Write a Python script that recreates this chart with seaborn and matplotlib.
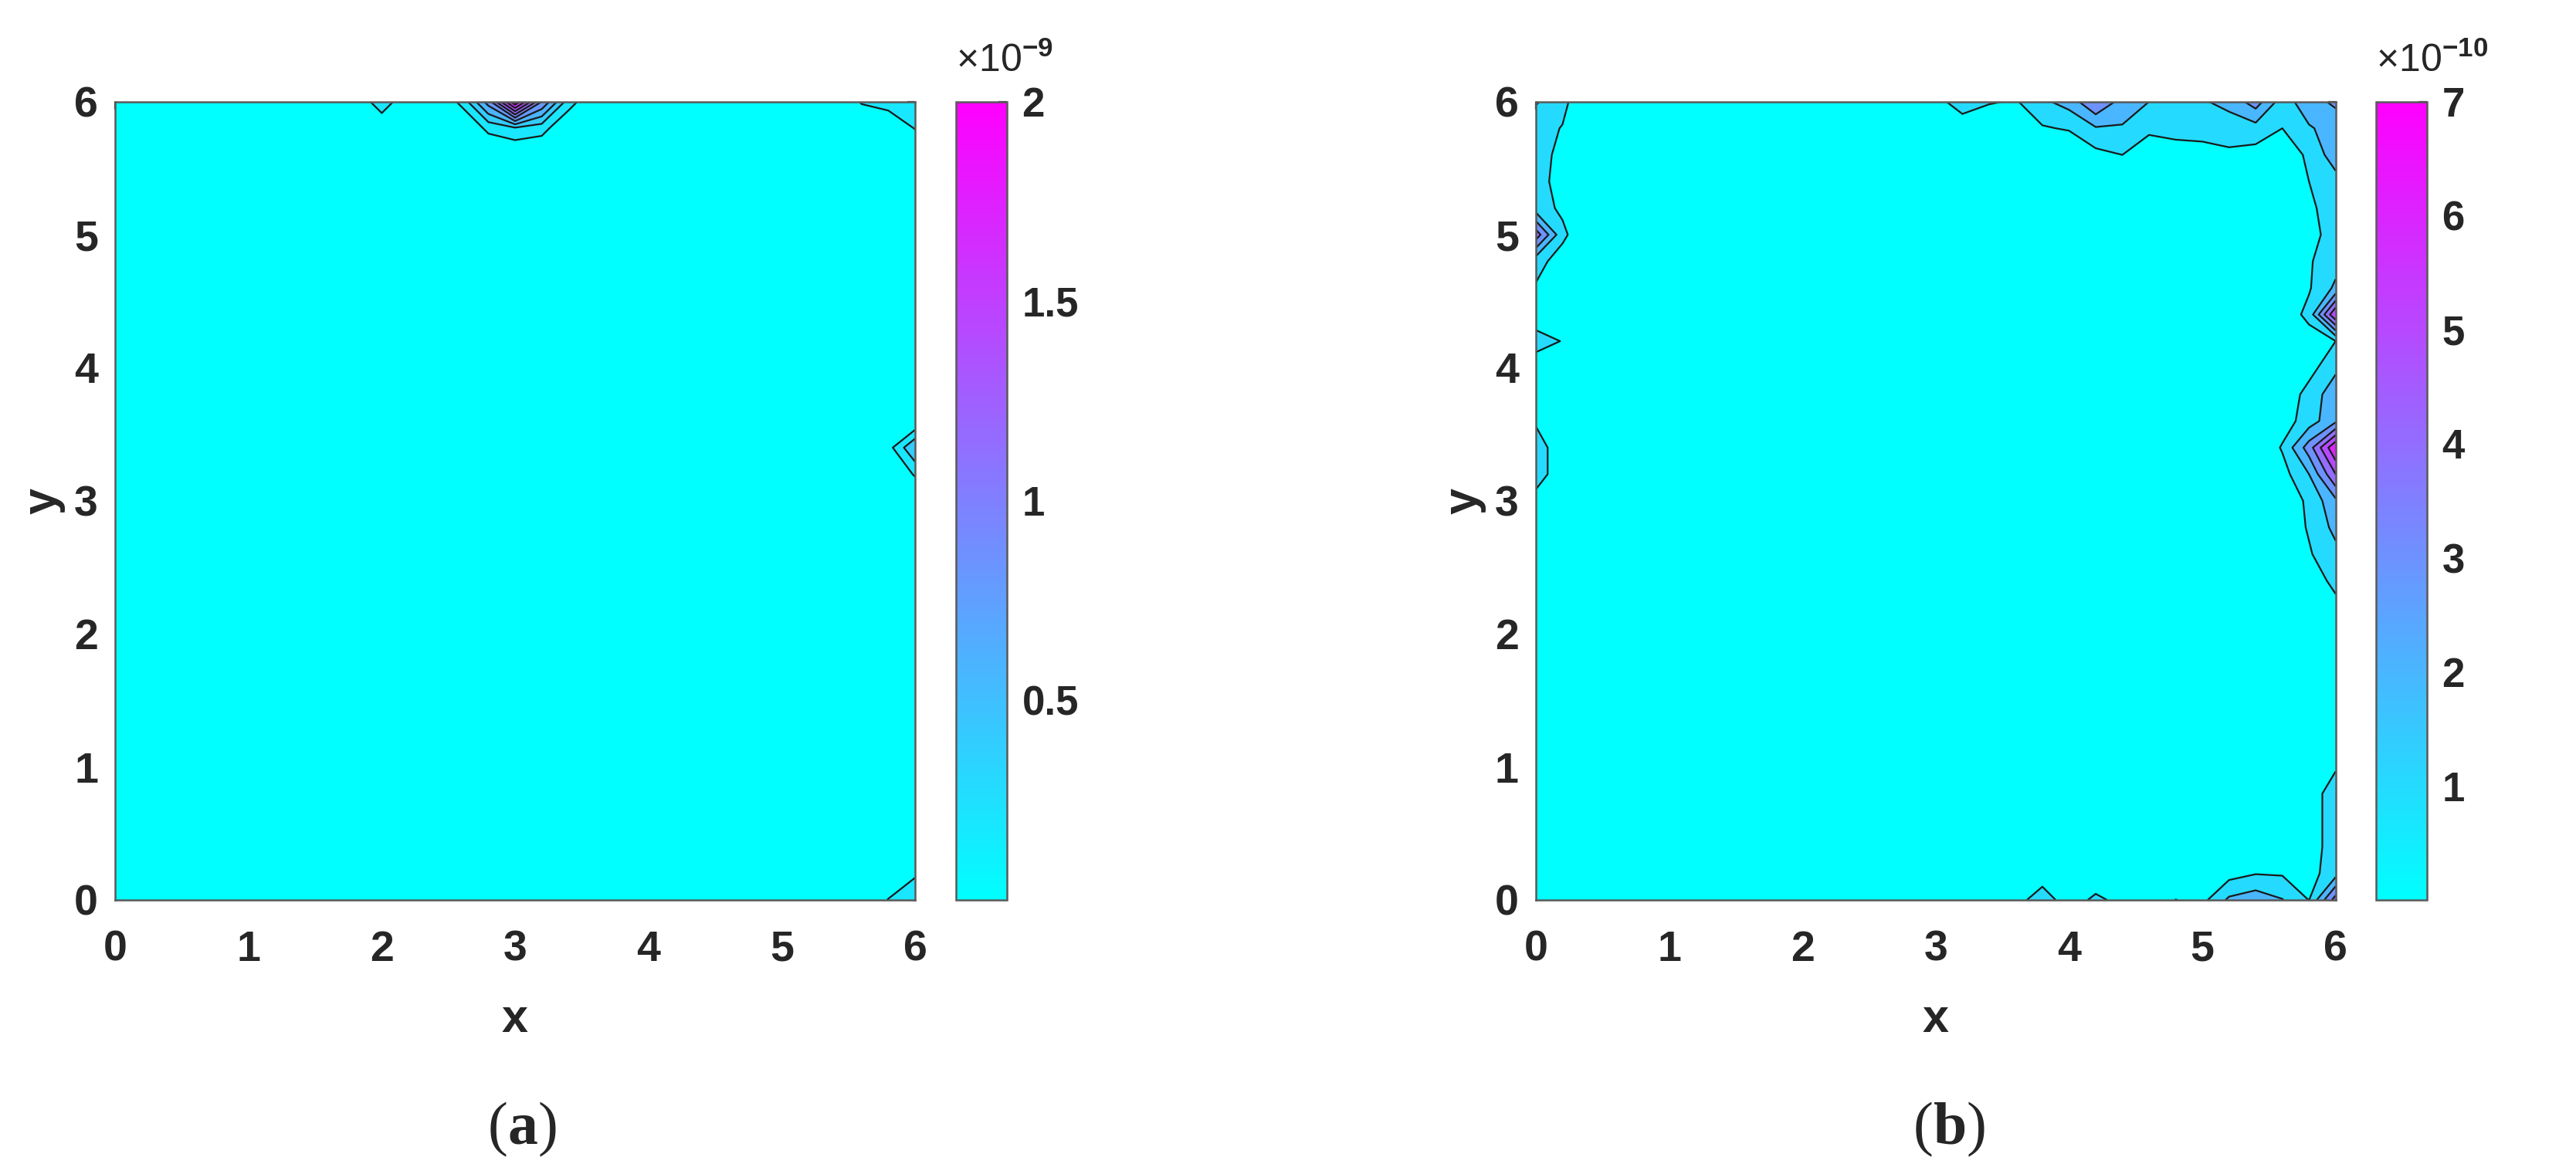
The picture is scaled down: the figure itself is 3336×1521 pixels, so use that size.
"""
Two filled-contour error maps on the unit cell [0, 6] x [0, 6],
drawn in the MATLAB look of the source figure (cool colormap, black isolines).
"""
import numpy as np
import matplotlib
matplotlib.use("Agg")
import matplotlib.pyplot as plt
import seaborn as sns
from matplotlib.colors import Normalize
from matplotlib.cm import ScalarMappable
from matplotlib.offsetbox import TextArea, HPacker, AnchoredOffsetbox

sns.set_theme(style="white")
plt.rcParams["font.family"] = ["Liberation Sans", "DejaVu Sans"]
plt.rcParams["font.weight"] = "bold"
plt.rcParams["mathtext.fontset"] = "custom"
plt.rcParams["mathtext.rm"] = "Liberation Sans"
plt.rcParams["mathtext.it"] = "Liberation Sans:italic"
plt.rcParams["mathtext.bf"] = "Liberation Sans:bold"

# ---- data -----------------------------------------------------------
STEP = 0.2
GRID = np.round(np.arange(0, 6.0 + STEP / 2, STEP), 1)

# panel (a): nodes that are not zero, value in units of 1e-9
A_X = [2.0, 2.6, 2.8, 3.0, 3.2, 3.4, 2.8, 3.0, 3.2,
       5.6, 5.8, 6.0, 6.0, 6.0, 6.0, 5.8, 6.0, 5.8, 6.0]
A_Y = [6.0, 6.0, 6.0, 6.0, 6.0, 6.0, 5.8, 5.8, 5.8,
       6.0, 6.0, 6.0, 5.8, 3.4, 3.2, 3.4, 0.0, 0.0, 0.2]
A_V = [0.35, 0.25, 0.90, 1.98, 1.00, 0.30, 0.25, 0.36, 0.28,
       0.22, 0.30, 0.38, 0.21, 0.60, 0.22, 0.12, 0.30, 0.21, 0.18]
A_LEVELS = [0, 0.2, 0.4, 0.6, 0.8, 1.0, 1.2, 1.4, 1.6, 1.8, 2.0]
A_TICKS = [0.5, 1, 1.5, 2]
A_TICKLABELS = ["0.5", "1", "1.5", "2"]

# panel (b): nodes that are not zero, value in units of 1e-10
# left edge x = 0 and x = 0.2
B_LEFT_Y = [6.0, 5.8, 5.6, 5.4, 5.2, 5.0, 4.8, 4.6, 4.4, 4.2, 4.0, 3.8, 3.6, 3.4, 3.2, 3.0, 2.8]
B_LEFT_V0 = [2.1, 1.4, 1.3, 1.3, 1.5, 4.6, 1.4, 0.9, 0.3, 1.5, 0.3, 0.2, 0.9, 1.4, 1.4, 0.7, 0.2]
B_LEFT_V1 = [1.3, 0.95, 0.8, 0.7, 0.8, 1.25, 0.5, 0.2, 0.0, 0.95, 0.0, 0.0, 0.2, 0.5, 0.5, 0.1, 0.0]
# top edge y = 6, 5.8, 5.6
B_TOP_X = [3.0, 3.2, 3.4, 3.6, 3.8, 4.0, 4.2, 4.4, 4.6, 4.8, 5.0, 5.2, 5.4, 5.6, 5.8]
B_TOP_V0 = [0.6, 1.6, 1.1, 0.9, 1.8, 2.4, 4.0, 2.6, 2.0, 1.6, 1.9, 2.3, 3.5, 2.8, 2.6]
B_TOP_V1 = [0.0, 0.3, 0.1, 0.2, 0.9, 1.1, 1.9, 1.9, 1.2, 1.3, 1.4, 1.5, 1.6, 1.7, 1.9]
B_TOP_V2 = [0.0, 0.0, 0.0, 0.0, 0.0, 0.0, 0.7, 1.0, 0.4, 0.6, 0.6, 0.8, 0.6, 0.7, 1.15]
# right edge x = 6, 5.8, 5.6
B_RIGHT_Y = [0.0, 0.2, 0.4, 0.6, 0.8, 1.0, 1.2, 1.4, 1.6, 1.8, 2.0, 2.2, 2.4, 2.6, 2.8,
             3.0, 3.2, 3.4, 3.6, 3.8, 4.0, 4.2, 4.4, 4.6, 4.8, 5.0, 5.2, 5.4, 5.6, 5.8, 6.0]
B_RIGHT_V0 = [4.5, 1.6, 1.5, 1.5, 1.5, 0.9, 0.5, 0.3, 0.2, 0.2, 0.3, 0.7, 1.3, 1.7, 2.3,
              2.8, 5.0, 6.95, 2.8, 2.6, 1.8, 1.0, 6.0, 2.2, 1.6, 1.5, 1.5, 1.6, 2.6, 2.4, 3.2]
B_RIGHT_V1 = [0.98, 0.6, 0.5, 0.5, 0.5, 0.3, 0.1, 0.0, 0.0, 0.0, 0.0, 0.1, 0.4, 0.9, 1.1,
              1.2, 2.0, 3.5, 1.5, 1.4, 0.6, 0.5, 1.3, 0.9, 0.9, 0.6, 0.8, 1.0, 1.15, 1.9, 2.6]
B_RIGHT_V2 = [0.0, 0.0, 0.0, 0.0, 0.0, 0.0, 0.0, 0.0, 0.0, 0.0, 0.0, 0.0, 0.0, 0.2, 0.3,
              0.3, 0.6, 1.1, 0.5, 0.2, 0.0, 0.0, 0.3, 0.2, 0.2, 0.1, 0.2, 0.3, 0.5, 1.0, 1.5]
# bottom edge y = 0, 0.2
B_BOT_X = [3.6, 3.8, 4.0, 4.2, 4.4, 4.6, 4.8, 5.0, 5.2, 5.4, 5.6]
B_BOT_V0 = [0.5, 1.7, 0.3, 1.3, 0.6, 0.4, 1.02, 0.7, 2.2, 2.6, 2.05]
B_BOT_V1 = [0.0, 0.3, 0.0, 0.0, 0.0, 0.0, 0.0, 0.1, 0.6, 0.95, 0.9]
B_LEVELS = [0, 1, 2, 3, 4, 5, 6, 7]
B_TICKS = [1, 2, 3, 4, 5, 6, 7]
B_TICKLABELS = ["1", "2", "3", "4", "5", "6", "7"]


def idx(v):
    return int(round(v / STEP))


def field_a():
    z = np.zeros((GRID.size, GRID.size))
    for x, y, v in zip(A_X, A_Y, A_V):
        z[idx(y), idx(x)] = v
    return z


def field_b():
    z = np.zeros((GRID.size, GRID.size))
    for y, v0, v1 in zip(B_LEFT_Y, B_LEFT_V0, B_LEFT_V1):
        z[idx(y), 0], z[idx(y), 1] = v0, v1
    for x, v0, v1, v2 in zip(B_TOP_X, B_TOP_V0, B_TOP_V1, B_TOP_V2):
        z[-1, idx(x)], z[-2, idx(x)], z[-3, idx(x)] = v0, v1, v2
    for y, v0, v1, v2 in zip(B_RIGHT_Y, B_RIGHT_V0, B_RIGHT_V1, B_RIGHT_V2):
        z[idx(y), -1], z[idx(y), -2], z[idx(y), -3] = v0, v1, v2
    for x, v0, v1 in zip(B_BOT_X, B_BOT_V0, B_BOT_V1):
        z[0, idx(x)], z[1, idx(x)] = v0, v1
    return z


CMAP = sns.color_palette("cool", as_cmap=True)
FRAME = "0.35"
INK = "#262626"


def panel(fig, ax_rect, cax_rect, z, levels, ticks, ticklabels, exp_txt, tag, tag_x):
    ax = fig.add_axes(ax_rect)
    cax = fig.add_axes(cax_rect)
    vmax = levels[-1]
    # MATLAB fills each band with the colour of its lower level
    band_cols = [CMAP(l / vmax) for l in levels[:-1]]
    ax.contourf(GRID, GRID, z, levels=levels, colors=band_cols)
    ax.contour(GRID, GRID, z, levels=levels[1:-1], colors="k", linewidths=0.8)
    ax.set_xlim(0, 6)
    ax.set_ylim(0, 6)
    ax.set_xticks(range(7))
    ax.set_yticks(range(7))
    ax.tick_params(direction="in", top=True, right=True, length=3.6, width=0.8,
                   color="0.2", labelsize=20, labelcolor=INK)
    ax.tick_params(axis="x", pad=14)
    ax.tick_params(axis="y", pad=8)
    ax.set_xlabel("x", fontsize=22, fontweight="bold", labelpad=13, color=INK)
    ax.set_ylabel("y", fontsize=22, fontweight="bold", labelpad=4, color=INK)
    for s in ax.spines.values():
        s.set_color(FRAME)
        s.set_linewidth(0.9)

    sm = ScalarMappable(norm=Normalize(0, vmax), cmap=CMAP)
    cb = fig.colorbar(sm, cax=cax)
    cb.set_ticks(ticks)
    cb.set_ticklabels(ticklabels)
    cb.outline.set_edgecolor(FRAME)
    cb.outline.set_linewidth(0.9)
    cax.tick_params(direction="in", length=4, width=0.8, color="0.2",
                    labelsize=19, pad=7, labelcolor=INK)
    cax.text(0.0, 1.028, exp_txt, transform=cax.transAxes, ha="left", va="bottom",
             fontsize=18, fontweight="normal", color=INK)

    # "(a)" with thin serif brackets and a bold letter
    parts = [TextArea("(", textprops=dict(family="Liberation Serif", size=28, weight="normal")),
             TextArea(tag, textprops=dict(family="Liberation Serif", size=28, weight="bold")),
             TextArea(")", textprops=dict(family="Liberation Serif", size=28, weight="normal"))]
    box = HPacker(children=parts, align="baseline", pad=0, sep=0)
    anch = AnchoredOffsetbox(loc="center", child=box, frameon=False, pad=0, borderpad=0,
                             bbox_to_anchor=(tag_x, 0.038), bbox_transform=fig.transFigure)
    fig.add_artist(anch)
    return ax


fig = plt.figure(figsize=(16.68, 7.605), dpi=200)
fig.patch.set_facecolor("white")

panel(fig, [0.0447, 0.2334, 0.3105, 0.680], [0.3711, 0.2334, 0.0198, 0.680],
      field_a(), A_LEVELS, A_TICKS, A_TICKLABELS, r"×10$^{-9}$", "a", 0.203)
panel(fig, [0.5962, 0.2334, 0.3105, 0.680], [0.9224, 0.2334, 0.0198, 0.680],
      field_b(), B_LEVELS, B_TICKS, B_TICKLABELS, r"×10$^{-10}$", "b", 0.757)

fig.savefig("out.png", dpi=200, facecolor="white")
